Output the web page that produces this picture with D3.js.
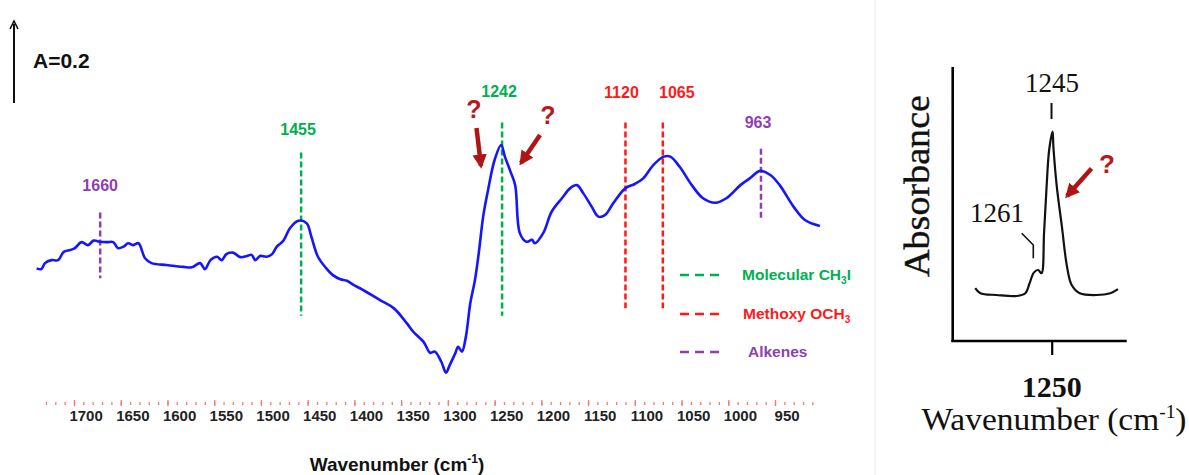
<!DOCTYPE html>
<html><head><meta charset="utf-8">
<script src="https://cdn.jsdelivr.net/npm/d3@7"></script>
<style>html,body{margin:0;padding:0;background:#fff;}svg{display:block;}</style>
</head><body>
<svg id="c" width="1189" height="475"></svg>
<script>
// ---- Main spectrum (wavenumber cm-1, absorbance) ----
const wavenumber = [1740,1735,1731,1724,1717,1711,1704,1699,1692,1685,1679,1672,1665,1658,1653,1647,1642,1637,1631,1624,1617,1601,1583,1574,1565,1560,1554,1547,1542,1537,1530,1522,1515,1510,1506,1501,1494,1488,1483,1476,1469,1460,1451,1446,1439,1430,1423,1415,1408,1401,1394,1373,1358,1344,1337,1326,1319,1314,1307,1302,1298,1292,1289,1285,1281,1276,1271,1267,1262,1257,1250,1243,1239,1233,1228,1223,1216,1210,1207,1198,1189,1178,1169,1162,1155,1146,1139,1132,1123,1110,1100,1091,1080,1069,1062,1052,1039,1027,1014,1002,987,977,966,955,945,930,918,902];
const absorbance = [0.271,0.269,0.285,0.293,0.293,0.315,0.320,0.325,0.341,0.333,0.345,0.342,0.341,0.341,0.325,0.329,0.338,0.333,0.338,0.298,0.285,0.280,0.275,0.274,0.285,0.269,0.293,0.302,0.293,0.309,0.313,0.301,0.304,0.307,0.293,0.304,0.302,0.309,0.329,0.345,0.378,0.398,0.391,0.355,0.302,0.271,0.253,0.242,0.238,0.227,0.218,0.187,0.165,0.125,0.102,0.075,0.046,0.049,0.022,-0.007,0.013,0.045,0.062,0.049,0.085,0.178,0.240,0.311,0.413,0.480,0.560,0.600,0.569,0.529,0.493,0.365,0.342,0.347,0.338,0.365,0.422,0.458,0.485,0.493,0.471,0.435,0.409,0.413,0.445,0.485,0.496,0.511,0.547,0.569,0.569,0.542,0.493,0.458,0.446,0.458,0.493,0.511,0.531,0.520,0.493,0.435,0.400,0.384];

const majorTicks = [1700,1650,1600,1550,1500,1450,1400,1350,1300,1250,1200,1150,1100,1050,1000,950];
const minorTicks = d3.range(1730, 909, -10);

// assignment markers
const markerPos   = [1672,1457,1242,1110,1070,965];
const markerLabel = ["1660","1455","1242","1120","1065","963"];
const markerGroup = ["Alkenes","Molecular","Molecular","Methoxy","Methoxy","Alkenes"];
const markerTop   = [0.42,0.58,0.66,0.66,0.66,0.59];
const markerBottom= [0.245,0.145,0.145,0.165,0.165,0.405];

const legendKeys  = ["Molecular","Methoxy","Alkenes"];
const legendColors= ["#00b050","#ff1a1a","#8e3fb0"];

// ---- Inset spectrum ----
const insetWn  = [1340,1334,1315,1291,1281,1276,1271,1266,1262,1259,1256,1253,1249,1248,1244,1238,1232,1226.5,1217,1197,1181,1172];
const insetAbs = [0.264,0.239,0.230,0.225,0.239,0.289,0.342,0.355,0.339,0.539,0.772,0.955,1.047,0.970,0.772,0.572,0.372,0.280,0.239,0.230,0.239,0.259];

const svg = d3.select("#c");
const color = d3.scaleOrdinal().domain(legendKeys).range(legendColors);
const sans = "Liberation Sans, Arial, sans-serif";

// scales (main)
const x = d3.scaleLinear().domain([1700, 950]).range([74, 775.0]);
const y = d3.scaleLinear().domain([0, 0.2]).range([370, 295]);

svg.append("defs").html(`
 <marker id="ar" viewBox="0 0 10 10" refX="8" refY="5" markerWidth="3.2" markerHeight="3.2" orient="auto"><path d="M0,0 L10,5 L0,10 Z" fill="#b01515"/></marker>`);

// scale bar
svg.append("line").attr("x1",14).attr("x2",14).attr("y1",24).attr("y2",103).attr("stroke","#111").attr("stroke-width",2);
svg.append("path").attr("d","M10,29 L14,21 L18,29").attr("fill","none").attr("stroke","#111").attr("stroke-width",1.6);
svg.append("text").attr("x",33).attr("y",68).attr("font-family",sans)
  .attr("font-weight","bold").attr("font-size",21).attr("fill","#111").text("A=0.2");

// x axis (dotted pink)
const axG = svg.append("g").attr("transform","translate(0,403)");
const minorAxis = d3.axisBottom(x).tickValues(minorTicks).tickSize(2).tickFormat("");
axG.append("g").call(minorAxis).call(g=>{g.select(".domain").remove();g.selectAll("line").attr("stroke","#f07a7a").attr("stroke-width",1.3).attr("y1",-1);});
const majorAxis = d3.axisBottom(x).tickValues(majorTicks).tickSize(3).tickPadding(4).tickFormat(d3.format("d"));
axG.append("g").call(majorAxis).call(g=>{
  g.select(".domain").remove();
  g.selectAll("line").attr("stroke","#f07a7a").attr("stroke-width",1.3).attr("y1",-3);
  g.selectAll("text").attr("dx",11.6).attr("font-family",sans)
   .attr("font-size",15).attr("font-weight","bold").attr("fill","#222");
});
svg.append("text").attr("x",397).attr("y",471).attr("text-anchor","middle")
  .attr("font-family",sans).attr("font-weight","bold").attr("font-size",19).attr("fill","#111")
  .html('Wavenumber (cm<tspan font-size="12" dy="-8">-1</tspan><tspan dy="8">)</tspan>');

// marker lines
markerPos.forEach((p,i)=>{
  svg.append("line").attr("x1",x(p)).attr("x2",x(p)).attr("y1",y(markerTop[i])).attr("y2",y(markerBottom[i]))
    .attr("stroke",color(markerGroup[i])).attr("stroke-width",2.5).attr("stroke-dasharray","6,3");
});
const labelOffset = [0,-3,-3,-4,14,-3];
const labelY = [185,129,91,92,92,122];
markerPos.forEach((p,i)=>{
  svg.append("text").attr("x",x(p)+labelOffset[i]).attr("y",labelY[i]+6).attr("text-anchor","middle")
    .attr("font-family",sans).attr("font-weight","bold").attr("font-size",16)
    .attr("fill",color(markerGroup[i])).text(markerLabel[i]);
});

// spectrum line
const data = wavenumber.map((w,i)=>({w, a:absorbance[i]}));
svg.append("path").datum(data).attr("fill","none").attr("stroke","#1515ff").attr("stroke-width",2.6)
  .attr("stroke-linejoin","round").attr("d", d3.line().x(d=>x(d.w)).y(d=>y(d.a)).curve(d3.curveCatmullRom.alpha(0.5)));

// question marks and arrows
function qa(tx,ty,x1,y1,x2,y2,fs){
  svg.append("text").attr("x",tx).attr("y",ty).attr("text-anchor","middle").attr("font-family",sans)
   .attr("font-weight","bold").attr("font-size",fs).attr("fill","#b41c1c").text("?");
  svg.append("line").attr("x1",x1).attr("y1",y1).attr("x2",x2).attr("y2",y2).attr("stroke","#b01515")
   .attr("stroke-width",4.5).attr("marker-end","url(#ar)");
}
qa(474,118,476.5,128,481,166,25);
qa(548,124,540,135,521,163,25);

// legend
const lg = svg.append("g");
legendKeys.forEach((k,i)=>{
  const yy = [275,314,352][i];
  lg.append("line").attr("x1",680).attr("x2",723).attr("y1",yy).attr("y2",yy).attr("stroke",color(k))
    .attr("stroke-width",2.5).attr("stroke-dasharray","9,6");
  const t = lg.append("text").attr("x",[742,743,748][i]).attr("y",yy+5).attr("font-family",sans)
    .attr("font-weight","bold").attr("font-size",15.5).attr("fill",color(k));
  if(i===0) t.html('Molecular CH<tspan font-size="10" dy="4">3</tspan><tspan dy="-4">I</tspan>');
  else if(i===1) t.html('Methoxy OCH<tspan font-size="10" dy="4">3</tspan>');
  else t.text("Alkenes");
});

// separator
svg.append("line").attr("x1",875).attr("x2",875).attr("y1",0).attr("y2",475).attr("stroke","#ececec").attr("stroke-width",1);

// ---- Inset panel ----
const xi = d3.scaleLinear().domain([1250, 1200]).range([1051.7, 1094.2]);
const yi = d3.scaleLinear().domain([0, 1.37]).range([341, 67]);
const serif = "Liberation Serif, Times New Roman, serif";
svg.append("line").attr("x1",952.7).attr("x2",952.7).attr("y1",yi(1.37)).attr("y2",yi(0)+1).attr("stroke","#000").attr("stroke-width",2.6);
svg.append("line").attr("x1",951.4).attr("x2",1126.7).attr("y1",yi(0)).attr("y2",yi(0)).attr("stroke","#000").attr("stroke-width",2.6);
const insetAxis = d3.axisBottom(xi).tickValues([1250]).tickSize(14).tickFormat("");
svg.append("g").attr("transform",`translate(0,${yi(0)})`).call(insetAxis).call(g=>{g.select(".domain").remove();g.selectAll("line").attr("stroke","#000").attr("stroke-width",2.2);});
svg.append("text").attr("x",xi(1250)).attr("y",397).attr("text-anchor","middle").attr("font-family",serif)
  .attr("font-weight","bold").attr("font-size",30).attr("fill","#111").text("1250");
svg.append("text").attr("x",1054).attr("y",430).attr("text-anchor","middle").attr("font-family",serif)
  .attr("font-size",31).attr("fill","#111").attr("textLength",265).attr("lengthAdjust","spacingAndGlyphs")
  .html('Wavenumber (cm<tspan font-size="18" dy="-12">-1</tspan><tspan dy="12">)</tspan>');
svg.append("text").attr("transform","translate(929,186) rotate(-90)").attr("text-anchor","middle").attr("font-family",serif)
  .attr("font-size",35).attr("fill","#111").attr("stroke","#111").attr("stroke-width",0.4)
  .attr("textLength",182).attr("lengthAdjust","spacingAndGlyphs").text("Absorbance");
const insetData = insetWn.map((w,i)=>({w,a:insetAbs[i]}));
svg.append("path").datum(insetData).attr("fill","none").attr("stroke","#111").attr("stroke-width",2.2).attr("stroke-linejoin","round")
  .attr("d", d3.line().x(d=>xi(d.w)).y(d=>yi(d.a)).curve(d3.curveCatmullRom.alpha(0.5)));
// peak annotations
svg.append("text").attr("x",1052).attr("y",92).attr("text-anchor","middle").attr("font-family",serif).attr("font-size",27).attr("fill","#111").text("1245");
svg.append("line").attr("x1",1051.5).attr("x2",1051.5).attr("y1",103).attr("y2",119).attr("stroke","#111").attr("stroke-width",2);
svg.append("text").attr("x",997).attr("y",222).attr("text-anchor","middle").attr("font-family",serif).attr("font-size",27).attr("fill","#111").text("1261");
svg.append("path").attr("d","M1021.7,233.3 L1033.3,245 L1033.3,258.3").attr("fill","none").attr("stroke","#111").attr("stroke-width",1.6);
qa(1107,173,1091.5,168.5,1067,196,26);
</script>
</body></html>
